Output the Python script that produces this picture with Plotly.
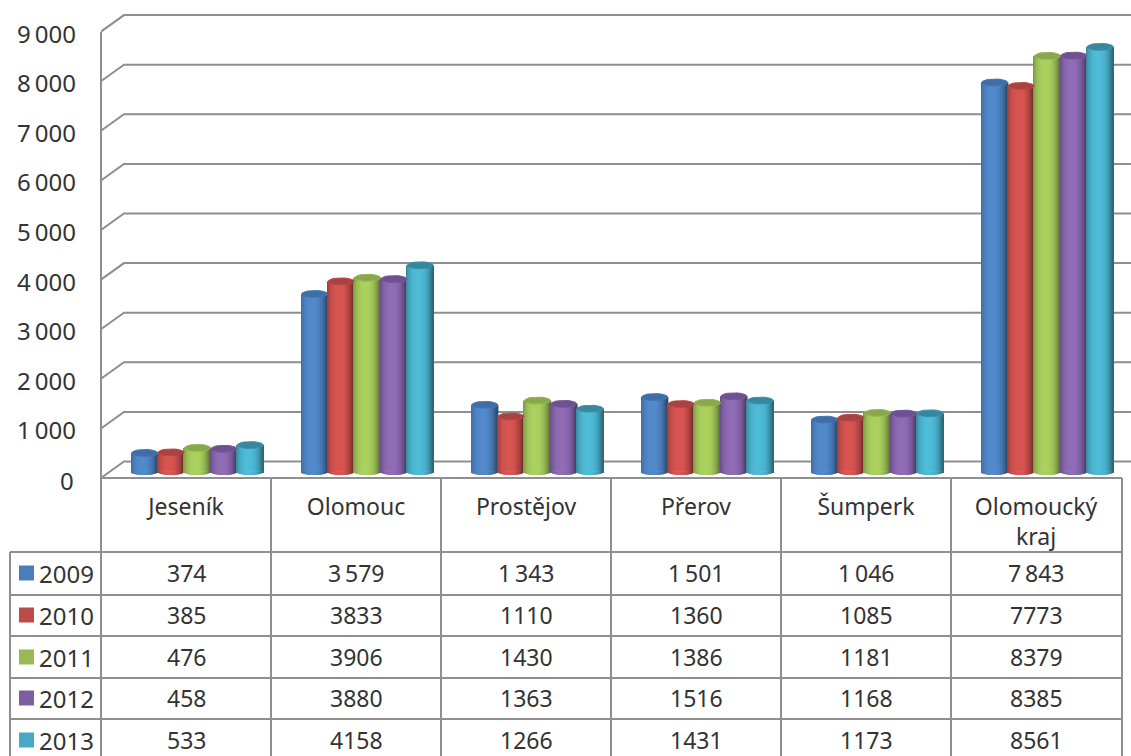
import math
import plotly.graph_objects as go

categories = ["Jeseník", "Olomouc", "Prostějov", "Přerov", "Šumperk", "Olomoucký<br>kraj"]
years = ["2009", "2010", "2011", "2012", "2013"]
v2009 = [374, 3579, 1343, 1501, 1046, 7843]
v2010 = [385, 3833, 1110, 1360, 1085, 7773]
v2011 = [476, 3906, 1430, 1386, 1181, 8379]
v2012 = [458, 3880, 1363, 1516, 1168, 8385]
v2013 = [533, 4158, 1266, 1431, 1173, 8561]
series = [v2009, v2010, v2011, v2012, v2013]
row_sep = [True, False, False, False, False]
y_ticks = [0, 1000, 2000, 3000, 4000, 5000, 6000, 7000, 8000, 9000]
y_labels = ["0", "1\u2009000", "2\u2009000", "3\u2009000", "4\u2009000", "5\u2009000",
            "6\u2009000", "7\u2009000", "8\u2009000", "9\u2009000"]
base_colors = ["#4f86c6", "#d2524f", "#a6cb5c", "#8c69b2", "#4cb6d2"]
cap_colors = ["#3f6ea6", "#a84341", "#8aa84b", "#6d5190", "#37879f"]
key_colors = ["#4a7ebb", "#be4b48", "#98b954", "#7d5fa0", "#46aac4"]

W, H = 1131, 756
LEFT, TOP, BOTTOM = 101, 10, 478
PITCH = 170.0
PX_PER_K = 49.6
BAR_W = 26.4
GRID = "#8f8f8f"
TXT = "#333333"
FONT = "Noto Sans"
LABEL_SHIFT = 2.5 / PX_PER_K * 1000
GROUP_SHIFT = 11.5 / PITCH

def px(p):
    return (p - LEFT) / (W - LEFT)

def py(p):
    return (BOTTOM - p) / (BOTTOM - TOP)

def shade(hex_c, f):
    r, g, b = int(hex_c[1:3], 16), int(hex_c[3:5], 16), int(hex_c[5:7], 16)
    return "rgb(%d,%d,%d)" % (min(255, r * f), min(255, g * f), min(255, b * f))

xmax = -0.5 + (W - LEFT) / PITCH
ymax = (BOTTOM - TOP) / PX_PER_K * 1000
y2min = -6.5 / PX_PER_K * 1000
y2max = ymax + y2min

fig = go.Figure()

# perspective gridlines on the front-plane axis
dx = 23 / PITCH
dy = 16.5 / PX_PER_K * 1000
gx, gy = [], []
for t in y_ticks:
    gx += [-0.5, -0.5 + dx, xmax, None]
    gy += [t + LABEL_SHIFT, t + LABEL_SHIFT + dy, t + LABEL_SHIFT + dy, None]
fig.add_trace(go.Scatter(x=gx, y=gy, mode="lines", line=dict(color=GRID, width=2),
                         hoverinfo="skip", showlegend=False, yaxis="y"))

# cylinders: vertical shaded strips plus curved base and top cap
N = 27
rx = BAR_W / 2 / PITCH
ry_val = 3.5 / PX_PER_K * 1000
for s, vals in enumerate(series):
    centers = [g + GROUP_SHIFT + (s - 2) * BAR_W / PITCH for g in range(len(vals))]
    for k in range(N):
        u = -1 + (2 * k + 1) / N
        f = 1.03 - 0.38 * abs(u + 0.1) ** 2.6
        col = shade(base_colors[s], f)
        xs = [c + u * rx for c in centers]
        d = -ry_val * math.sqrt(max(0, 1 - u * u))
        sw = 2 * rx / N * 2
        fig.add_trace(go.Bar(x=xs, y=vals, width=sw, marker=dict(color=col, line=dict(width=0)),
                             yaxis="y2", showlegend=False, name=years[s]))
        fig.add_trace(go.Bar(x=xs, y=[d] * len(vals), width=sw,
                             marker=dict(color=col, line=dict(width=0)),
                             yaxis="y2", showlegend=False, hoverinfo="skip"))
    ex, ey = [], []
    for c, v in zip(centers, vals):
        for a in range(0, 361, 15):
            ex.append(c + rx * 0.98 * math.cos(math.radians(a)))
            ey.append(v + ry_val * math.sin(math.radians(a)))
        ex.append(None)
        ey.append(None)
    fig.add_trace(go.Scatter(x=ex, y=ey, mode="lines", fill="toself", fillcolor=cap_colors[s],
                             line=dict(color=shade(cap_colors[s], 1.08), width=1),
                             yaxis="y2", hoverinfo="skip", showlegend=False))

# table frame
shapes = []
def hline(x0, x1, y):
    shapes.append(dict(type="line", xref="paper", yref="paper", x0=px(x0), x1=px(x1), y0=py(y), y1=py(y),
                       line=dict(color=GRID, width=2)))
def vline(x, y0, y1):
    shapes.append(dict(type="line", xref="paper", yref="paper", x0=px(x), x1=px(x), y0=py(y0), y1=py(y1),
                       line=dict(color=GRID, width=2)))

hline(101, 1122, 478)
vline(101, 32, 756)
for i in range(1, 7):
    vline(101 + 170 * i + (1 if i == 6 else 0), 478, 756)
vline(10, 552, 756)
row_lines = [552, 595, 636, 678, 719]
for y in row_lines:
    hline(10, 1122, y)
row_mid = [573, 615, 657, 698, 740]
key_half = 7.5
annotations = []
for s, y in enumerate(row_mid):
    shapes.append(dict(type="rect", xref="paper", yref="paper", x0=px(19), x1=px(34),
                       y0=py(y + key_half), y1=py(y - key_half),
                       fillcolor=key_colors[s], line=dict(width=0)))
    annotations.append(dict(xref="paper", yref="paper", x=px(37), y=py(y), text=years[s], showarrow=False,
                            xanchor="left", yanchor="middle", font=dict(family=FONT, size=24, color=TXT)))
    for g, v in enumerate(series[s]):
        if row_sep[s] and v >= 1000:
            txt = "%d\u2009%03d" % (v // 1000, v % 1000)
        else:
            txt = str(v)
        annotations.append(dict(xref="x", yref="paper", x=g, y=py(y), text=txt, showarrow=False,
                                xanchor="center", yanchor="middle", font=dict(family=FONT, size=23, color=TXT)))

fig.update_layout(
    width=W, height=H, autosize=False,
    margin=dict(l=LEFT, r=0, t=TOP, b=H - BOTTOM, pad=0),
    paper_bgcolor="white", plot_bgcolor="white",
    barmode="overlay", showlegend=False, shapes=shapes, annotations=annotations,
    font=dict(family=FONT, color=TXT),
    xaxis=dict(range=[-0.5, xmax], tickmode="array", tickvals=list(range(6)), ticktext=categories,
               showgrid=False, zeroline=False, showline=False, ticks="", ticklabelstandoff=13,
               tickfont=dict(family=FONT, size=23, color=TXT), tickangle=0),
    yaxis=dict(range=[LABEL_SHIFT, ymax + LABEL_SHIFT], tickmode="array", tickvals=y_ticks[1:], ticktext=y_labels[1:],
               showgrid=False, zeroline=False, showline=False, ticks="", ticklabelstandoff=24,
               tickfont=dict(family=FONT, size=24, color=TXT)),
    yaxis2=dict(range=[y2min, y2max], overlaying="y", side="right", visible=False, showgrid=False, zeroline=False),
)
fig.add_annotation(dict(xref="paper", yref="paper", x=px(76), y=py(480), text=y_labels[0], showarrow=False,
                        xanchor="right", yanchor="middle", font=dict(family=FONT, size=24, color=TXT)))

fig.write_html("out.html", config=dict(displayModeBar=False),
               post_script="document.body.style.margin='0';document.body.style.overflow='hidden';")
